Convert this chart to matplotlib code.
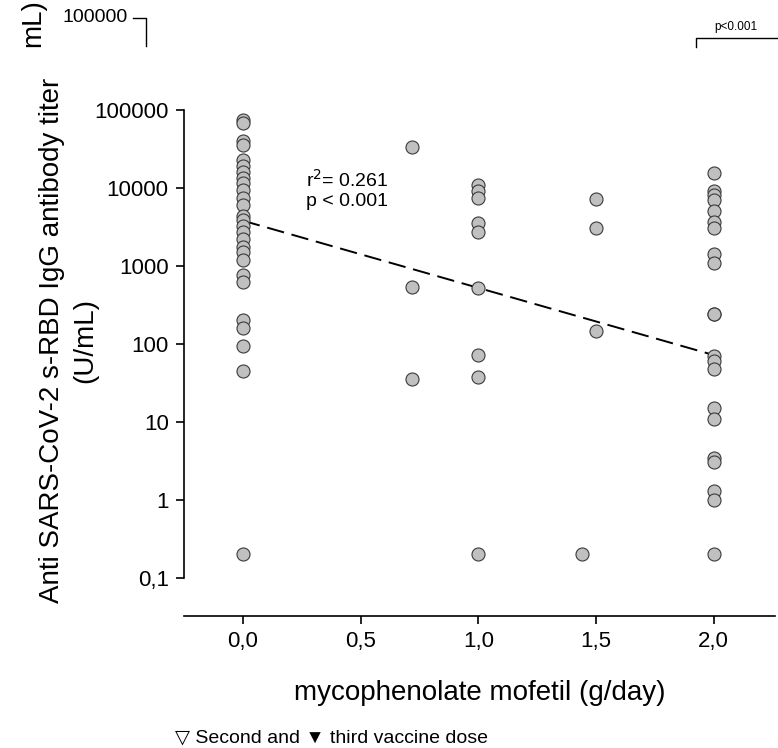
import matplotlib.pyplot as plt
import numpy as np

plt.rcParams['font.family'] = ['Liberation Sans', 'DejaVu Sans']

# mycophenolate dose (g/day) and anti s-RBD IgG titer (U/mL)
dose_0 = [0.0] * 27
titer_0 = [75000, 68000, 40000, 35000, 23000, 19000, 16000, 13500, 11500, 9500,
           7500, 6000, 4300, 3900, 3200, 2700, 2200, 1750, 1500, 770, 620,
           200, 160, 95, 45, 0.2, 1200]
dose_072 = [0.72] * 3
titer_072 = [33000, 540, 35]
dose_1 = [1.0] * 8
titer_1 = [11000, 9000, 7500, 3500, 2750, 520, 72, 38]
dose_1b = [1.0, 1.44]
titer_1b = [0.2, 0.2]
dose_15 = [1.5] * 3
titer_15 = [7200, 3100, 145]
dose_2 = [2.0] * 20
titer_2 = [15500, 9000, 8000, 7000, 5000, 3600, 3100, 1400, 1100, 240,
           245, 70, 60, 48, 15, 11, 3.5, 3.1, 1.3, 1.0]
dose_2b = [2.0]
titer_2b = [0.2]

doses = dose_0 + dose_072 + dose_1 + dose_1b + dose_15 + dose_2 + dose_2b
titers = titer_0 + titer_072 + titer_1 + titer_1b + titer_15 + titer_2 + titer_2b

# regression line
fit_x = [0.0, 2.0]
fit_y = [3800, 72]

x_ticks = [0.0, 0.5, 1.0, 1.5, 2.0]
x_labels = ['0,0', '0,5', '1,0', '1,5', '2,0']
y_ticks = [0.1, 1, 10, 100, 1000, 10000, 100000]
y_labels = ['0,1', '1', '10', '100', '1000', '10000', '100000']

fig = plt.figure(figsize=(7.78, 7.48), dpi=100)
ax = fig.add_axes([0.2365, 0.1765, 0.7595, 0.69])

ax.scatter(doses, titers, s=88, facecolor='#c0c0c0', edgecolor='#3a3a3a',
           linewidth=0.8, zorder=3)
ax.plot(fit_x, fit_y, color='black', linestyle=(0, (9, 4)), linewidth=1.4, zorder=2)

ax.set_yscale('log')
ax.set_ylim(10 ** (-1 - 38 / 78), 10 ** (5 + 10 / 78))
ax.set_xlim(-0.25, 2.26)
ax.set_yticks(y_ticks)
ax.set_yticklabels(y_labels)
ax.yaxis.set_minor_locator(plt.NullLocator())
ax.set_xticks(x_ticks)
ax.set_xticklabels(x_labels)

for side in ['top', 'right']:
    ax.spines[side].set_visible(False)
ax.spines['left'].set_bounds(0.1, 100000)
ax.spines['left'].set_linewidth(1.2)
ax.spines['bottom'].set_linewidth(1.2)
ax.tick_params(axis='both', direction='out', length=6, width=1.2, labelsize=16, pad=5)

ax.set_xlabel('mycophenolate mofetil (g/day)', fontsize=20)
ax.xaxis.set_label_coords(0.5, -0.125)
fig.text(69 / 778, 1 - 340 / 748, 'Anti SARS-CoV-2 s-RBD IgG antibody titer\n(U/mL)',
         fontsize=20, rotation=90, ha='center', va='center', multialignment='center',
         linespacing=1.35)

ax.text(0.27, 9500, 'r$^2$= 0.261\np < 0.001', fontsize=14, va='center', linespacing=1.15)

# fragments of the neighbouring panel
fig.text(62 / 778, 1 - 18 / 748, '100000', fontsize=14, va='center')
fig.add_artist(plt.Line2D([133 / 778, 146 / 778, 146 / 778],
                          [1 - 18 / 748, 1 - 18 / 748, 1 - 46 / 748],
                          color='black', linewidth=1))
fig.text(20 / 778, 1 - 47 / 748, 'mL)', fontsize=20, rotation=90, va='bottom', ha='left')
fig.text(736 / 778, 1 - 27 / 748, 'p<0.001', fontsize=8.5, ha='center', va='center')
fig.add_artist(plt.Line2D([696 / 778, 696 / 778, 778 / 778],
                          [1 - 47 / 748, 1 - 38 / 748, 1 - 38 / 748],
                          color='black', linewidth=1))

fig.text(175 / 778, 1 - 738 / 748, '\u25BD Second and \u25BC third vaccine dose',
         fontsize=14, va='center')

fig.savefig('out.png', dpi=100)
